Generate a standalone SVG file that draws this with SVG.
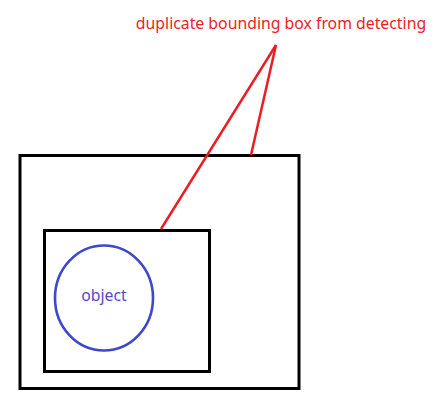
<svg xmlns="http://www.w3.org/2000/svg" width="445" height="414" viewBox="0 0 445 414">
<style>
.box{fill:none;stroke:#000;stroke-width:3}
.lbl{font-family:"Noto Sans","Open Sans",sans-serif;font-size:15.8px}
</style>
<rect width="445" height="414" fill="#fff"/>
<g id="outer-box"><rect class="box" x="20" y="155.5" width="279" height="233"/></g>
<g id="inner-box"><rect class="box" x="44.5" y="230.5" width="165" height="141"/></g>
<g id="object">
<ellipse cx="104" cy="298" rx="49" ry="52.5" fill="none" stroke="#3f48cc" stroke-width="2.6"/>
<text class="lbl" x="104" y="301" text-anchor="middle" fill="#5a45cc" font-size="15">object</text>
</g>
<g id="annotation">
<text class="lbl" x="281" y="28.5" text-anchor="middle" fill="#ed1c24">duplicate bounding box from detecting</text>
</g>
<g id="connectors" stroke="#ed1c24" stroke-width="2.5" fill="none">
<line x1="276" y1="45" x2="161" y2="229"/>
<line x1="276" y1="45" x2="251" y2="155"/>
</g>
</svg>
